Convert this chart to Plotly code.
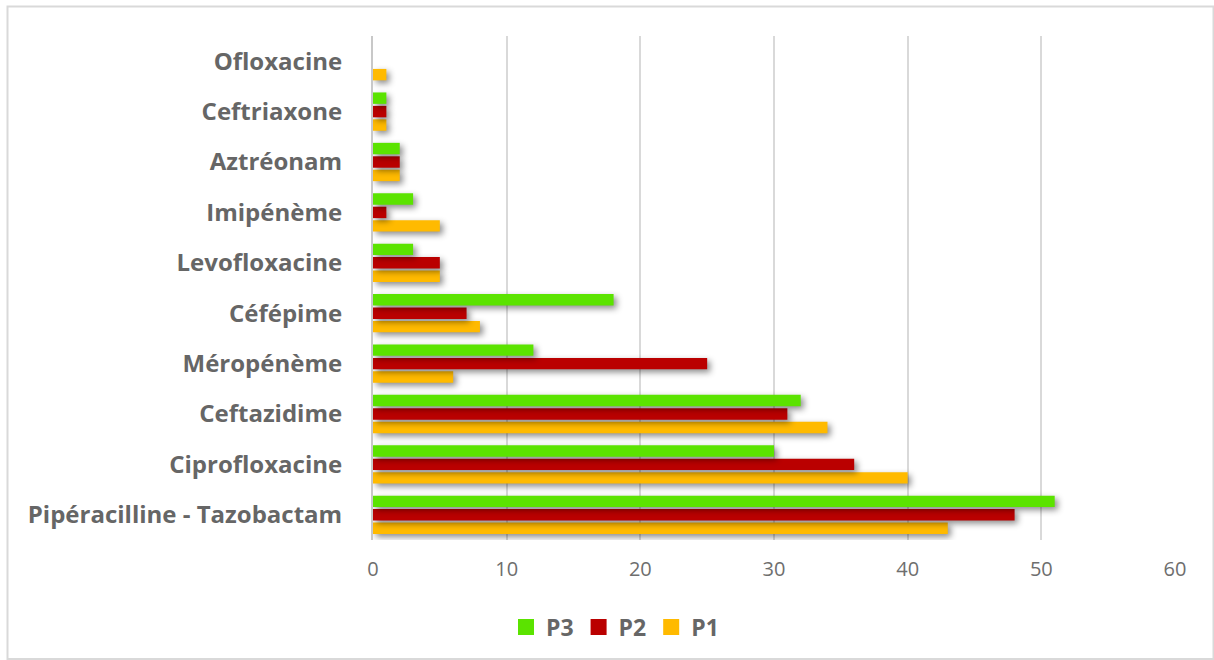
import plotly.graph_objects as go

# Antibiotics, listed bottom to top
categories = [
    "Pipéracilline - Tazobactam",
    "Ciprofloxacine",
    "Ceftazidime",
    "Méropénème",
    "Céfépime",
    "Levofloxacine",
    "Imipénème",
    "Aztréonam",
    "Ceftriaxone",
    "Ofloxacine",
]

p1 = [43, 40, 34, 6, 8, 5, 5, 2, 1, 1]
p2 = [48, 36, 31, 25, 7, 5, 1, 2, 1, 0]
p3 = [51, 30, 32, 12, 18, 3, 3, 2, 1, 0]

x_ticks = [0, 10, 20, 30, 40, 50, 60]

series = [
    ("P1", p1, "#FFBA00"),
    ("P2", p2, "#BA0000"),
    ("P3", p3, "#5BE300"),
]

fig = go.Figure()
for name, vals, color in series:
    fig.add_trace(go.Bar(
        y=categories, x=vals, name=name, orientation="h",
        marker=dict(color=color, line=dict(width=0)),
        showlegend=False,
    ))

# Legend entries drawn as square markers (P3, P2, P1 from left to right)
for name, vals, color in reversed(series):
    fig.add_trace(go.Scatter(
        x=[None], y=[None], mode="markers", name=name,
        marker=dict(symbol="square", size=16, color=color),
    ))

W, H = 1214, 660
ml, mr, mt, mb = 373, 39, 36, 120
pw, ph = W - ml - mr, H - mt - mb

def px_x(v):
    return (v - ml) / pw

def px_y(v):
    return (H - mb - v) / ph

fig.update_layout(
    width=W, height=H,
    margin=dict(l=ml, r=mr, t=mt, b=mb, pad=0),
    paper_bgcolor="white", plot_bgcolor="white",
    barmode="group", bargap=0.2, bargroupgap=0.15,
    font=dict(family="Open Sans", color="#666666"),
    xaxis=dict(
        range=[0, 60], tickvals=x_ticks, showgrid=True,
        gridcolor="#D9D9D9", gridwidth=1.5, zeroline=False,
        showline=False, ticks="", tickfont=dict(size=20, color="#6E6E6E"),
        ticklabelstandoff=15,
    ),
    yaxis=dict(
        categoryorder="array", categoryarray=categories,
        showgrid=False, zeroline=False, showline=True,
        linecolor="#C8C8C8", linewidth=2, ticks="",
        tickfont=dict(size=24, color="#666666", family="Open Sans",
                      weight="bold"),
        ticklabelstandoff=24,
    ),
    legend=dict(
        orientation="h",
        x=px_x(W / 2 + 8), xanchor="center",
        y=px_y(627), yanchor="middle",
        font=dict(size=23, color="#666666", family="Open Sans",
                  weight="bold"),
        itemwidth=30, tracegroupgap=0,
    ),
    shapes=[dict(
        type="rect", xref="paper", yref="paper",
        x0=px_x(7.5), x1=px_x(1213.5), y0=px_y(659), y1=px_y(6.5),
        line=dict(color="#D9D9D9", width=2), fillcolor="rgba(0,0,0,0)",
        layer="below",
    )],
    showlegend=True,
)

shadow_js = """
function addShadow(){
  document.querySelectorAll('.barlayer .bars path').forEach(function(p){
    p.style.filter = 'drop-shadow(3px 3px 3px rgba(0,0,0,0.45))';
  });
}
var gd = document.querySelector('.plotly-graph-div');
addShadow();
gd.on && gd.on('plotly_afterplot', addShadow);
"""

fig.write_html("out.html", post_script=shadow_js)
